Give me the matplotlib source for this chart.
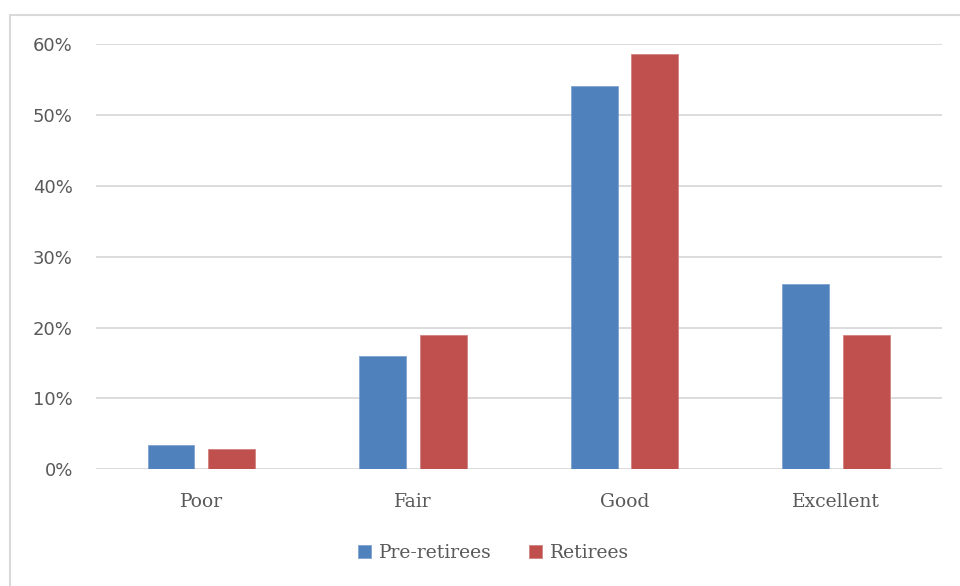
import matplotlib.pyplot as plt
import numpy as np
from matplotlib.patches import Rectangle
from matplotlib.ticker import FuncFormatter

categories = ['Poor', 'Fair', 'Good', 'Excellent']
pre_retirees = [3.5, 16.0, 54.1, 26.2]
retirees = [2.8, 19.0, 58.6, 19.0]
series_names = ['Pre-retirees', 'Retirees']

BLUE = '#4F81BD'
RED = '#C0504D'
TEXT = '#595959'
GRID = '#D9D9D9'

fig = plt.figure(figsize=(9.6, 5.86), dpi=100)
ax = fig.add_axes([0.0997, 0.1991, 0.8813, 0.7253])

# outer chart border, runs off the right and bottom edges
fig.patches.append(Rectangle((10 / 960, -0.05), 1.0, 1 - 15 / 586 + 0.05,
                             transform=fig.transFigure, fill=False,
                             edgecolor='#D9D9D9', linewidth=1.5))

x = np.arange(len(categories))
width = 0.222
offset = 0.144
ax.bar(x - offset, pre_retirees, width, color=BLUE, edgecolor='#7FA3D0',
       linewidth=0.6, label=series_names[0], zorder=3)
ax.bar(x + offset, retirees, width, color=RED, edgecolor='#D38280',
       linewidth=0.6, label=series_names[1], zorder=3)

ax.set_xlim(-0.5, 3.5)
ax.set_ylim(0, 60)
ax.set_yticks(np.arange(0, 61, 10))
ax.yaxis.set_major_formatter(FuncFormatter(lambda v, p: f'{v:.0f}%'))
ax.grid(axis='y', color=GRID, linewidth=1.3, zorder=0)
for s in ax.spines.values():
    s.set_visible(False)
ax.tick_params(axis='both', length=0)
ax.tick_params(axis='y', pad=16.5, labelsize=13, labelcolor=TEXT)
ax.set_yticklabels([f'{v}%' for v in range(0, 61, 10)],
                   family='DejaVu Sans')

ax.set_xticks(x)
ax.set_xticklabels(categories, family='DejaVu Serif', fontsize=13.5,
                   color=TEXT)
ax.tick_params(axis='x', pad=17)

leg = fig.legend(loc='center', bbox_to_anchor=(0.514, 1 - 553 / 586), ncol=2,
                 frameon=False, prop={'family': 'DejaVu Serif', 'size': 13.5},
                 handlelength=0.7, handleheight=0.7, handletextpad=0.4,
                 columnspacing=2.0)
for t in leg.get_texts():
    t.set_color(TEXT)

fig.savefig('out.png', dpi=100, facecolor='white')
